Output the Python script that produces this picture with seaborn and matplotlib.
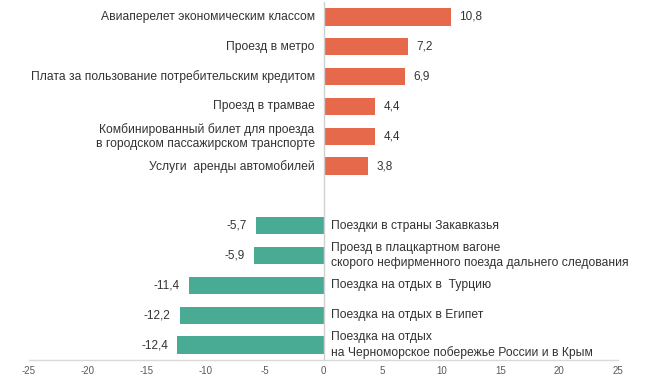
import matplotlib
matplotlib.use("Agg")
import matplotlib.pyplot as plt
import seaborn as sns
import pandas as pd
import numpy as np

pos_labels = [
    "Авиаперелет экономическим классом",
    "Проезд в метро",
    "Плата за пользование потребительским кредитом",
    "Проезд в трамвае",
    "Комбинированный билет для проезда\nв городском пассажирском транспорте",
    "Услуги  аренды автомобилей",
]
pos_values = [10.8, 7.2, 6.9, 4.4, 4.4, 3.8]

neg_labels = [
    "Поездки в страны Закавказья",
    "Проезд в плацкартном вагоне\nскорого нефирменного поезда дальнего следования",
    "Поездка на отдых в  Турцию",
    "Поездка на отдых в Египет",
    "Поездка на отдых\nна Черноморское побережье России и в Крым",
]
neg_values = [-5.7, -5.9, -11.4, -12.2, -12.4]

x_ticks = [-25, -20, -15, -10, -5, 0, 5, 10, 15, 20, 25]

sns.set_theme(style="white")
plt.rcParams["font.family"] = ["Liberation Sans", "DejaVu Sans"]

gap = " "
order = pos_labels + [gap] + neg_labels
df = pd.DataFrame({
    "label": pos_labels + neg_labels,
    "value": pos_values + neg_values,
    "group": ["up"] * len(pos_labels) + ["down"] * len(neg_labels),
})

fig = plt.figure(figsize=(6.56, 3.87), dpi=100)
ax = fig.add_axes([29 / 656, 1 - 360 / 387, (618 - 29) / 656, 358 / 387])

sns.barplot(data=df, x="value", y="label", hue="group", order=order,
            hue_order=["up", "down"], palette={"up": "#E5694A", "down": "#4AAB95"},
            dodge=False, width=0.58, legend=False, ax=ax, orient="h",
            edgecolor="none", saturation=1)

ax.set_xlim(-25, 25)
ax.set_ylim(len(order) - 0.5, -0.5)
ax.set_xticks(x_ticks)
ax.set_xticklabels([str(t) for t in x_ticks], fontsize=7, color="#595959")
ax.tick_params(axis="x", length=0, pad=4)
ax.set_yticks([])
ax.set_xlabel("")
ax.set_ylabel("")
for s in ["top", "right", "left"]:
    ax.spines[s].set_visible(False)
ax.spines["bottom"].set_color("#D9D9D9")
ax.spines["bottom"].set_linewidth(1)
ax.axvline(0, color="#D0D0D0", lw=1, zorder=3)

txt = "#333333"
for i, lab in enumerate(order):
    if lab == gap:
        continue
    v = df.loc[df["label"] == lab, "value"].iloc[0]
    vs = f"{v:.1f}".replace(".", ",")
    if v >= 0:
        ax.text(-0.75, i, lab, ha="right", va="center", fontsize=8.75,
                color=txt, multialignment="right", linespacing=1.25)
        ax.text(v + 0.7, i, vs, ha="left", va="center", fontsize=8.5, color=txt)
    else:
        ax.text(0.6, i, lab, ha="left", va="center", fontsize=8.75,
                color=txt, multialignment="left", linespacing=1.25)
        ax.text(v - 0.8, i, vs, ha="right", va="center", fontsize=8.5, color=txt)

fig.savefig("out.png", dpi=100)
